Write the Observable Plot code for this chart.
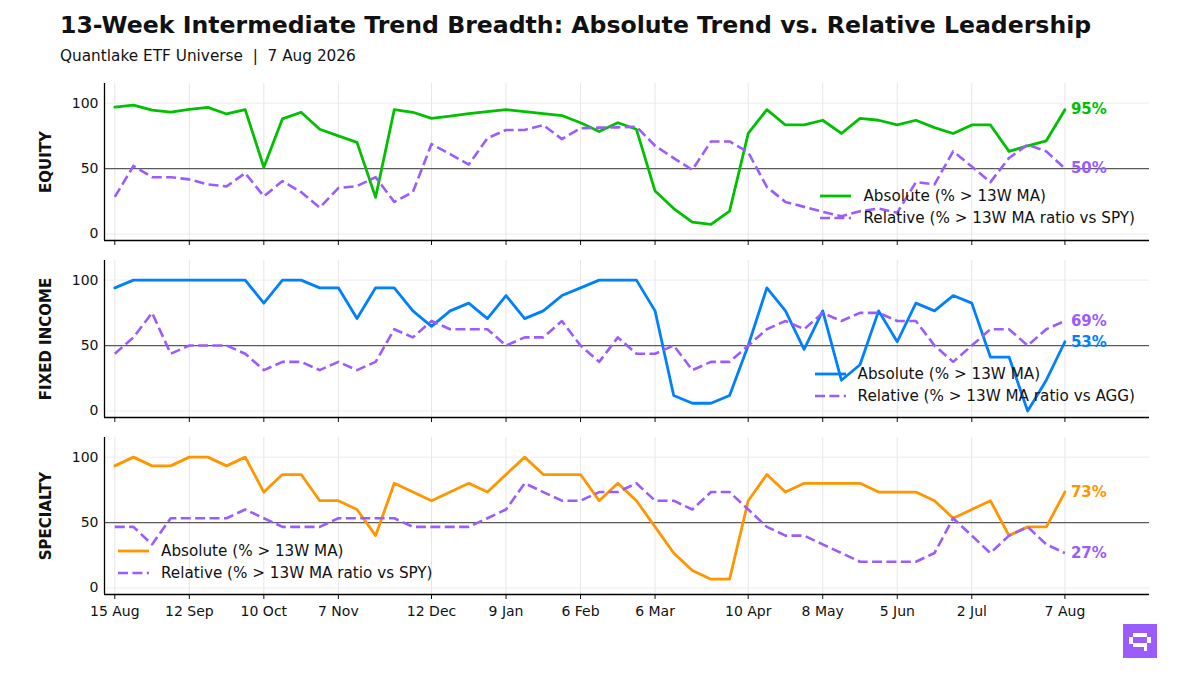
<!DOCTYPE html>
<html>
<head>
<meta charset="utf-8">
<script src="https://cdn.jsdelivr.net/npm/d3@7"></script>
<script src="https://cdn.jsdelivr.net/npm/@observablehq/plot@0.6"></script>
<style>
  html, body { margin: 0; padding: 0; background: #fff; }
  #root { position: relative; width: 1200px; height: 675px; overflow: hidden; font-family: "DejaVu Sans", sans-serif; color: #111; }
  .title { position: absolute; left: 60px; top: 11px; font-size: 23.6px; font-weight: bold; white-space: nowrap; line-height: 28px; }
  .subtitle { position: absolute; left: 60px; top: 46px; font-size: 15.3px; white-space: nowrap; line-height: 20px; }
  .panel { position: absolute; left: 0; }
  .legend { position: absolute; font-size: 15.2px; line-height: 22px; display: grid; grid-template-columns: 31px auto; column-gap: 12px; align-items: center; white-space: nowrap; }
  .legend svg { display: block; }
  .logo { position: absolute; left: 1123px; top: 624px; width: 34px; height: 34px; }
</style>
</head>
<body>
<div id="root">
  <div class="title">13-Week Intermediate Trend Breadth: Absolute Trend vs. Relative Leadership</div>
  <div class="subtitle">Quantlake ETF Universe&nbsp; |&nbsp; 7 Aug 2026</div>
</div>
<script>
// ---------- data ----------
const weeks = [
  "2025-08-15","2025-08-22","2025-08-29","2025-09-05","2025-09-12","2025-09-19","2025-09-26",
  "2025-10-03","2025-10-10","2025-10-17","2025-10-24","2025-10-31","2025-11-07","2025-11-14",
  "2025-11-21","2025-11-28","2025-12-05","2025-12-12","2025-12-19","2025-12-26","2026-01-02",
  "2026-01-09","2026-01-16","2026-01-23","2026-01-30","2026-02-06","2026-02-13","2026-02-20",
  "2026-02-27","2026-03-06","2026-03-13","2026-03-20","2026-03-27","2026-04-03","2026-04-10",
  "2026-04-17","2026-04-24","2026-05-01","2026-05-08","2026-05-15","2026-05-22","2026-05-29",
  "2026-06-05","2026-06-12","2026-06-19","2026-06-26","2026-07-02","2026-07-10","2026-07-17",
  "2026-07-24","2026-07-31","2026-08-07"
];
const tickWeeks = [
  "2025-08-15","2025-09-12","2025-10-10","2025-11-07","2025-12-12","2026-01-09","2026-02-06",
  "2026-03-06","2026-04-10","2026-05-08","2026-06-05","2026-07-02","2026-08-07"
];

const equityAbs = [97,98.5,94.7,93.2,95.2,96.7,91.7,95,51,88,
  93,80,75,70,28,95,93,88.4,90,92,
  93.5,95,93.5,92,90.5,85,78.3,85,80,32.8,
  19.4,9,7.3,17.4,76.8,95,83.3,83.3,86.9,76.8,
  88.4,86.9,83.3,86.9,81.3,76.8,83.3,83.3,63.1,67.4,
  71.2,95];
const equityRel = [28.3,52,43.4,43.4,41.7,37.9,36.4,46.5,28.8,40.4,
  32,20.2,35.1,36.6,43.4,24.5,32,68.7,61.1,53,
  73.2,79.5,79.5,83.3,72.5,80.8,81.3,81.5,82,67.4,
  58,49,70.7,70.7,62.4,35.9,24.5,20.7,16.9,13.6,
  17.4,19.4,16.2,39.6,37.9,63.1,51.5,39.6,58.1,68.2,
  63.1,50];

const fixedAbs = [94.1,100,100,100,100,100,100,100,82.4,100,
  100,94.1,94.1,70.6,94.1,94.1,76.5,64.7,76.5,82.4,
  70.6,88.2,70.6,76.5,88.2,94.1,100,100,100,76.5,
  11.8,5.9,5.9,11.8,50,94.1,76.5,47.1,76.5,23.5,
  35.3,76.5,52.9,82.4,76.5,88.2,82.4,41.2,41.2,0,
  23.5,52.9];
const fixedRel = [43.75,56.25,75,43.75,50,50,50,43.75,31.25,37.5,
  37.5,31.25,37.5,31.25,37.5,62.5,56.25,68.75,62.5,62.5,
  62.5,50,56.25,56.25,68.75,50,37.5,56.25,43.75,43.75,
  50,31.25,37.5,37.5,50,62.5,68.75,62.5,75,68.75,
  75,75,68.75,68.75,50,37.5,50,62.5,62.5,50,
  62.5,68.75];

const specAbs = [93.3,100,93.3,93.3,100,100,93.3,100,73.3,86.7,
  86.7,66.7,66.7,60,40,80,73.3,66.7,73.3,80,
  73.3,86.7,100,86.7,86.7,86.7,66.7,80,66.7,46.7,
  26.7,13.3,6.7,6.7,66.7,86.7,73.3,80,80,80,
  80,73.3,73.3,73.3,66.7,53.3,60,66.7,40,46.7,
  46.7,73.3];
const specRel = [46.7,46.7,33.3,53.3,53.3,53.3,53.3,60,53.3,46.7,
  46.7,46.7,53.3,53.3,53.3,53.3,46.7,46.7,46.7,46.7,
  53.3,60,80,73.3,66.7,66.7,73.3,73.3,80,66.7,
  66.7,60,73.3,73.3,60,46.7,40,40,33.3,26.7,
  20,20,20,20,26.7,53.3,40,26.7,40,46.7,
  33.3,26.7];

const panelNames = ["EQUITY", "FIXED INCOME", "SPECIALTY"];
const benchmarks = ["SPY", "AGG", "SPY"];
const absLabel = "Absolute (% > 13W MA)";
const relLabelPrefix = "Relative (% > 13W MA ratio vs ";
const yTicks = [0, 50, 100];

// ---------- styling ----------
const colors = ["#00C000", "#0080FF", "#FF9500"];
const relColor = "#9B5CFF";
const dash = "10,4.4";
const fmtDate = d3.utcFormat("%-d %b");
const parse = d3.utcParse("%Y-%m-%d");
const tickIdx = tickWeeks.map(w => weeks.indexOf(w));
const xDomain = [-0.553, 55.54];
const yDomain = [-5, 115];

const panels = [
  {abs: equityAbs, rel: equityRel, top: 78, legend: {right: 65, top: 185}},
  {abs: fixedAbs, rel: fixedRel, top: 255, legend: {right: 65, top: 363}},
  {abs: specAbs, rel: specRel, top: 432, legend: {left: 118, top: 540}}
];

const root = document.getElementById("root");

panels.forEach((p, k) => {
  const last = panels.length - 1 === k;
  const data = weeks.map((w, i) => ({i, abs: p.abs[i], rel: p.rel[i]}));
  const n = weeks.length - 1;
  const ends = [
    {i: n, v: p.rel[n], c: relColor},
    {i: n, v: p.abs[n], c: colors[k]}
  ];
  const chart = Plot.plot({
    width: 1200,
    height: 5 + 157 + (last ? 30 : 10),
    marginLeft: 104,
    marginRight: 51,
    marginTop: 5,
    marginBottom: last ? 30 : 10,
    style: {fontFamily: "DejaVu Sans, sans-serif", fontSize: "14px", background: "transparent", overflow: "visible", color: "#111"},
    x: {type: "linear", domain: xDomain},
    y: {domain: yDomain},
    marks: [
      Plot.gridX(tickIdx, {stroke: "#e6e6e6", strokeOpacity: 1, strokeWidth: 1}),
      Plot.gridY(yTicks, {stroke: "#ececec", strokeOpacity: 1, strokeWidth: 1}),
      Plot.ruleY([50], {stroke: "#5a5a5a", strokeWidth: 1.2}),
      Plot.line(data, {x: "i", y: "abs", stroke: colors[k], strokeWidth: 2.8}),
      Plot.line(data, {x: "i", y: "rel", stroke: relColor, strokeWidth: 2.6, strokeDasharray: dash, strokeLinecap: "butt"}),
      Plot.text(ends, {x: "i", y: "v", text: d => Math.round(d.v) + "%", fill: d => d.c, dx: 6, textAnchor: "start", fontWeight: "bold", fontSize: 15}),
      Plot.axisY(yTicks, {tickSize: 0, tickPadding: 6, fontSize: 14, label: null}),
      Plot.axisX(tickIdx, {tickSize: 5, tickPadding: 7, fontSize: 14, label: null,
        tickFormat: last ? (i => fmtDate(parse(weeks[i]))) : (() => "")}),
      Plot.ruleX([xDomain[0]], {y1: yDomain[0], y2: yDomain[1], stroke: "#000", strokeWidth: 1.3}),
      Plot.ruleY([yDomain[0]], {stroke: "#000", strokeWidth: 1.3}),
      Plot.text([panelNames[k]], {frameAnchor: "left", textAnchor: "middle", lineAnchor: "middle", dx: -58, rotate: -90, fontWeight: "bold", fontSize: 15, fill: "#111"})
    ]
  });
  const wrap = document.createElement("div");
  wrap.className = "panel";
  wrap.style.top = p.top + "px";
  wrap.appendChild(chart);
  root.appendChild(wrap);

  // legend
  const lg = document.createElement("div");
  lg.className = "legend";
  if (p.legend.right !== undefined) lg.style.right = p.legend.right + "px";
  if (p.legend.left !== undefined) lg.style.left = p.legend.left + "px";
  lg.style.top = p.legend.top + "px";
  const rows = [
    {label: absLabel, color: colors[k], dashed: false},
    {label: relLabelPrefix + benchmarks[k] + ")", color: relColor, dashed: true}
  ];
  rows.forEach(r => {
    const sw = document.createElementNS("http://www.w3.org/2000/svg", "svg");
    sw.setAttribute("width", "31"); sw.setAttribute("height", "8");
    const ln = document.createElementNS("http://www.w3.org/2000/svg", "line");
    ln.setAttribute("x1", "0"); ln.setAttribute("x2", "31");
    ln.setAttribute("y1", "4"); ln.setAttribute("y2", "4");
    ln.setAttribute("stroke", r.color);
    ln.setAttribute("stroke-width", r.dashed ? "2.6" : "2.8");
    if (r.dashed) ln.setAttribute("stroke-dasharray", dash);
    sw.appendChild(ln);
    const tx = document.createElement("div");
    tx.textContent = r.label;
    lg.appendChild(sw);
    lg.appendChild(tx);
  });
  root.appendChild(lg);
});

// logo
const logo = document.createElement("div");
logo.className = "logo";
logo.innerHTML = '<svg width="34" height="34" viewBox="0 0 34 34">' +
  '<rect x="0" y="0" width="34" height="34" fill="#9B5CFF"/>' +
  '<g fill="#fff"><rect x="10" y="9" width="14" height="4"/><rect x="6" y="13" width="4" height="7"/>' +
  '<rect x="24" y="13" width="4" height="6"/><rect x="10" y="19" width="14" height="4"/>' +
  '<rect x="21" y="23" width="3" height="4"/></g></svg>';
root.appendChild(logo);
</script>
</body>
</html>
